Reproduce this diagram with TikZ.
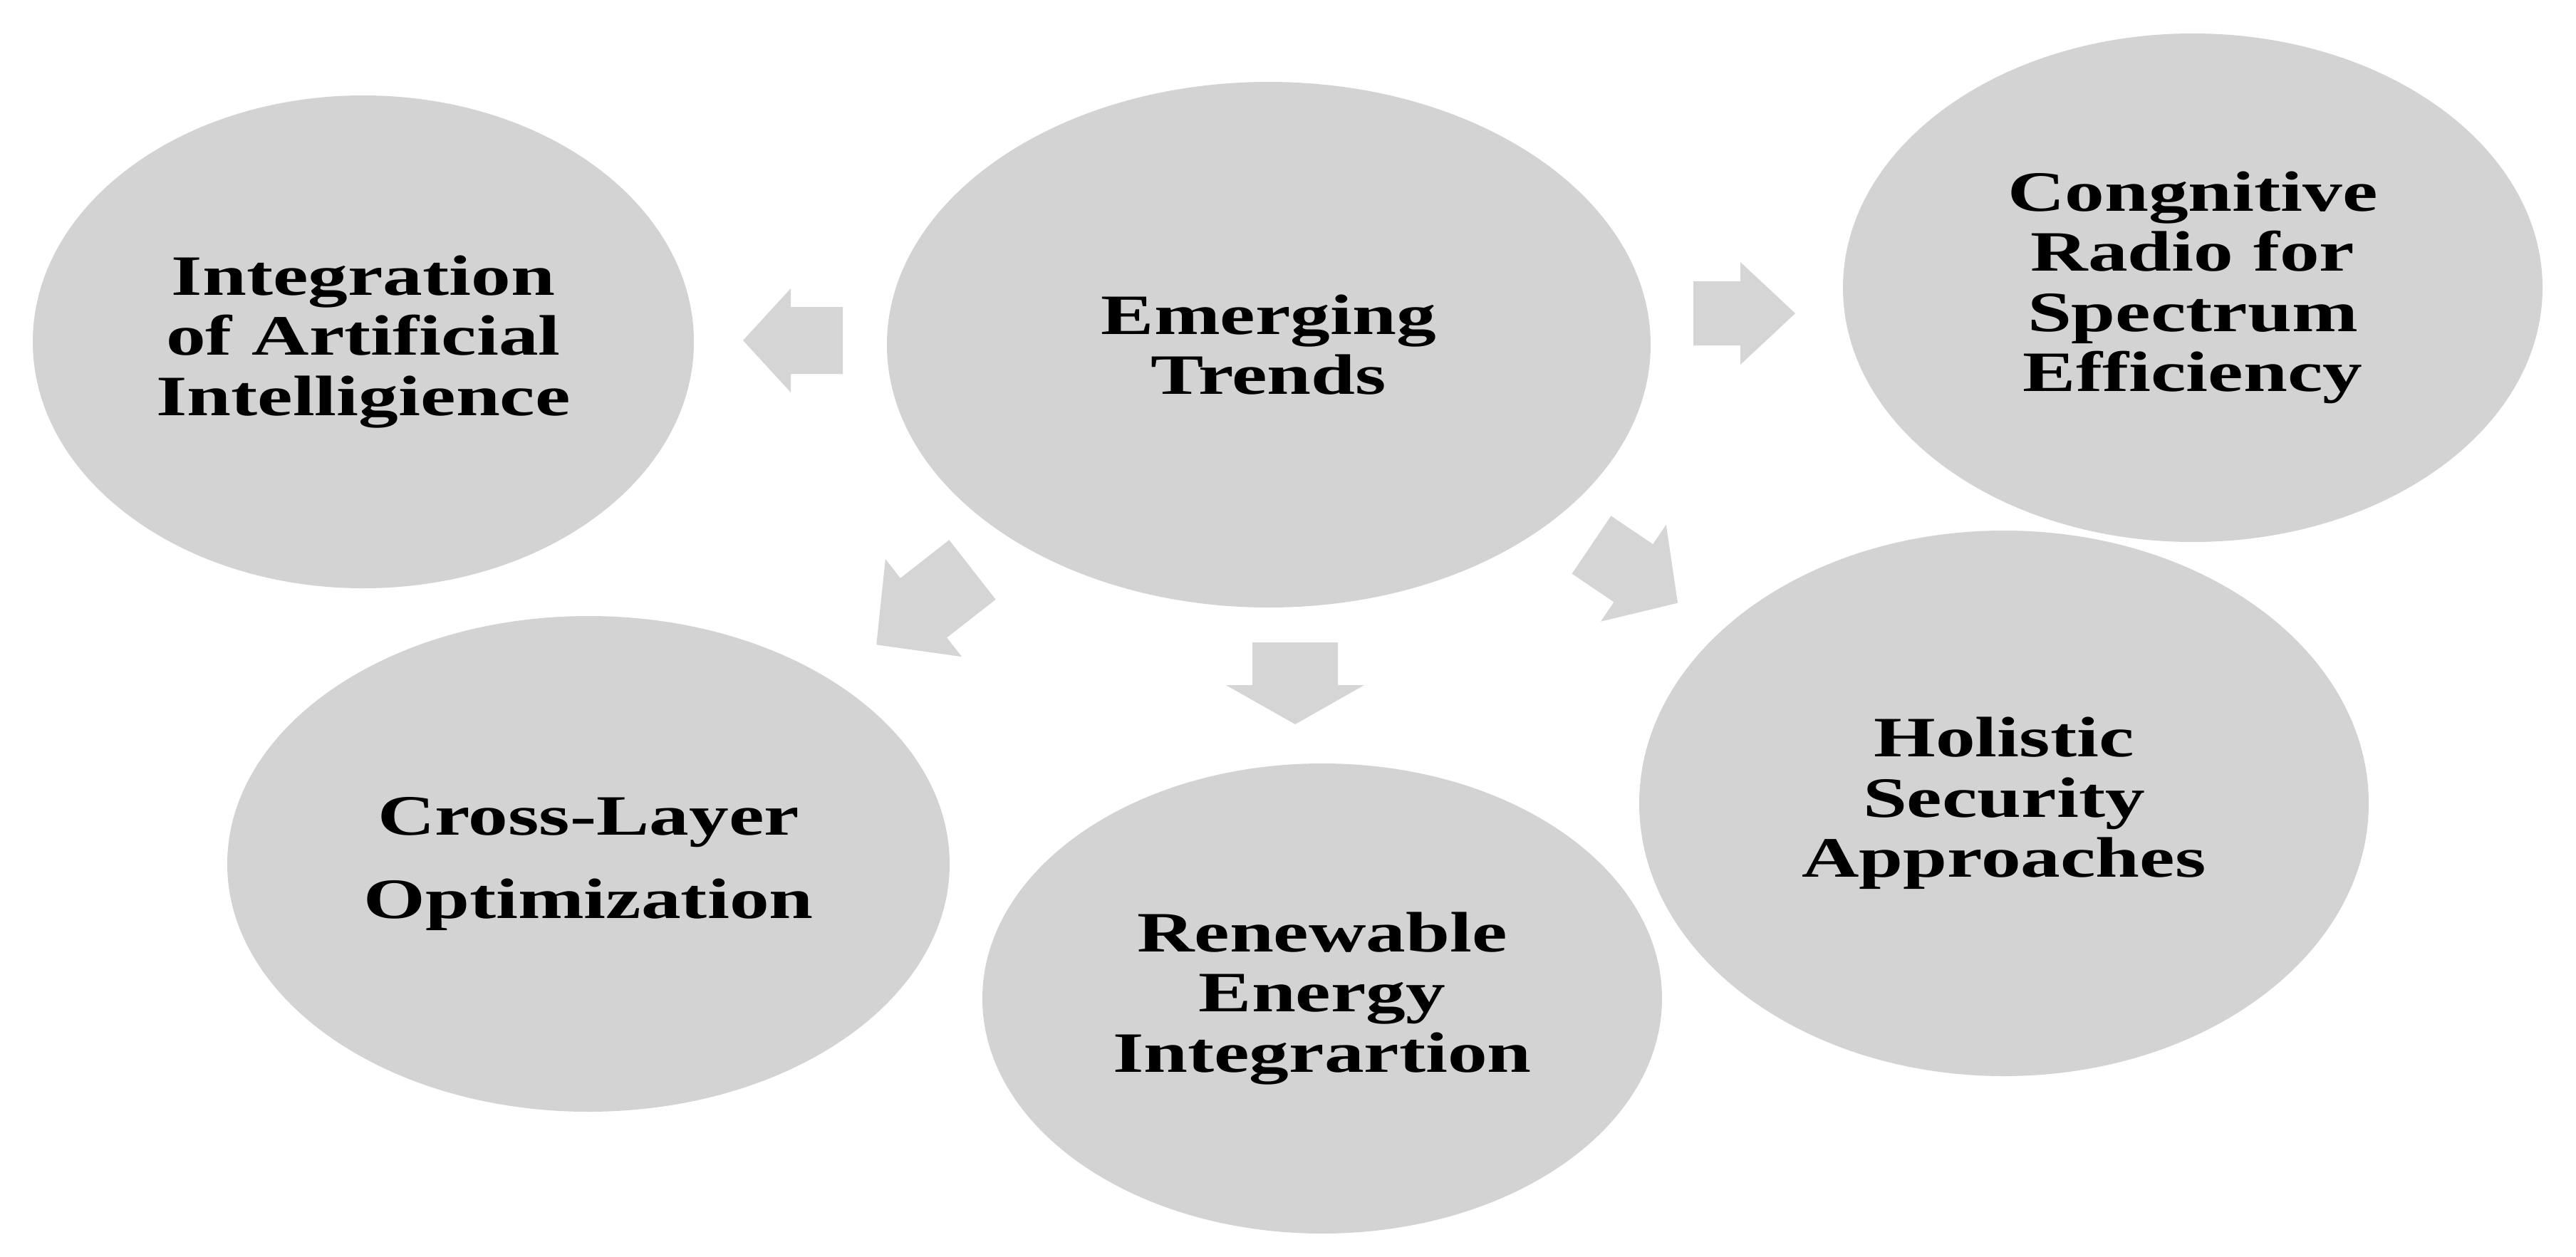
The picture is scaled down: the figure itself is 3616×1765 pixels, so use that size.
\documentclass[tikz,border=0pt]{standalone}
\usepackage{fontspec}
\setmainfont{Liberation Serif}[FakeStretch=1.39]
\usetikzlibrary{shapes.geometric}
\definecolor{bubble}{HTML}{D3D3D3}
\definecolor{arrowgray}{HTML}{D5D5D5}
\tikzset{
  bubble/.style={ellipse, fill=bubble, draw=none, inner sep=0pt, align=center,
    font={\fontsize{22.8pt}{24pt}\selectfont\bfseries}, text=black},
  blockarrow/.style={fill=arrowgray, draw=none}
}
\newcommand{\bigarrow}[7]{% tail x, tail y, angle, length, shaft half, head half, head length
  \begin{scope}[shift={(#1,#2)}, rotate=#3]
    \fill[blockarrow] (0,-#5) -- ({#4-#7},-#5) -- ({#4-#7},-#6) -- (#4,0) -- ({#4-#7},#6) -- ({#4-#7},#5) -- (0,#5) -- cycle;
  \end{scope}}
\begin{document}
\begin{tikzpicture}[x=0.1mm,y=-0.1mm]
\useasboundingbox (0,0) rectangle (3616,1765);
\fill[white] (0,0) rectangle (3616,1765);

\node[bubble, minimum width=1072*0.1mm, minimum height=738*0.1mm] (et) at (1781,484) {Emerging\\Trends};
\node[bubble, minimum width=928*0.1mm, minimum height=692*0.1mm] (ai) at (510,480) {Integration\\of Artificial\\Intelligience};
\node[bubble, minimum width=982*0.1mm, minimum height=714*0.1mm] (cr) at (3078,404) {Congnitive\\Radio for\\Spectrum\\Efficiency};
\node[bubble, minimum width=1014*0.1mm, minimum height=696*0.1mm] (cl) at (826,1213) {Cross-Layer\\[9.5pt]Optimization};
\node[bubble, minimum width=954*0.1mm, minimum height=660*0.1mm] (re) at (1856,1402) {Renewable\\Energy\\Integrartion};
\node[bubble, minimum width=1024*0.1mm, minimum height=766*0.1mm] (hs) at (2813,1128) {Holistic\\Security\\Approaches};

% block arrows from the central bubble
\bigarrow{1183}{478}{180}{140}{47}{73}{67}
\bigarrow{2377}{440}{0}{143}{45}{72}{77}
\bigarrow{1365}{800}{218}{171}{53}{87}{84}
\bigarrow{1818}{902}{-90}{115}{60}{97}{55}
\bigarrow{2234}{765}{-34}{146}{49}{82}{75}
\end{tikzpicture}
\end{document}
